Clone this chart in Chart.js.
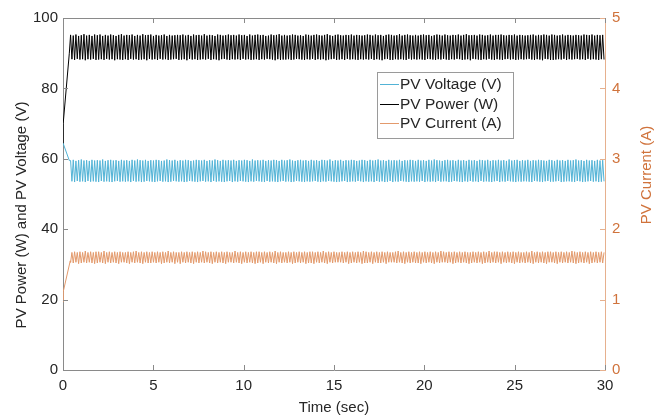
<!DOCTYPE html>
<html><head><meta charset="utf-8">
<script src="https://cdn.jsdelivr.net/npm/chart.js@4"></script>
<style>html,body{margin:0;padding:0;background:#fff}#wrap{width:656px;height:419px}</style>
</head><body><div id="wrap"><canvas id="c" width="656" height="419"></canvas></div>
<script>
const xTicks = [0, 5, 10, 15, 20, 25, 30];
const leftTicks = [0, 20, 40, 60, 80, 100];
const rightTicks = [0, 1, 2, 3, 4, 5];
const seriesNames = ['PV Voltage (V)', 'PV Power (W)', 'PV Current (A)'];
const xTitle = 'Time (sec)';
const leftTitle = 'PV Power (W) and PV Voltage (V)';
const rightTitle = 'PV Current (A)';

// start-up transient (time in s, value)
const voltageStartTimes = [0, 0.35];
const voltageStartValues = [64.5, 59.5];
const powerStartTimes = [0, 0.01, 0.35];
const powerStartValues = [64, 70, 90];
const currentStartTimes = [0, 0.02, 0.40];
const currentStartValues = [0.97, 1.12, 1.55];

// steady-state samples on the logging grid
const steadyStartSec = 0.42;
const steadyStepSec = 0.074;

const voltageSteady = [
59.5,53.6,59.7,53.4,59.4,53.7,59.6,53.5,59.8,53.6,59.5,53.4,59.6,53.7,59.4,53.5,59.7,53.6,59.5,53.5,
59.6,53.4,59.5,53.7,59.8,53.5,59.4,53.6,59.6,53.5,59.7,53.4,59.5,53.6,59.6,53.7,59.4,53.5,59.7,53.6,
59.5,53.5,59.6,53.6,59.4,53.4,59.7,53.7,59.5,53.5,59.8,53.6,59.6,53.4,59.5,53.5,59.7,53.7,59.4,53.6,
59.6,53.5,59.5,53.4,59.7,53.6,59.6,53.7,59.4,53.5,59.5,53.6,59.8,53.4,59.6,53.5,59.5,53.7,59.7,53.6,
59.4,53.5,59.6,53.6,59.5,53.4,59.7,53.5,59.6,53.7,59.4,53.6,59.5,53.5,59.7,53.4,59.6,53.6,59.5,53.7,
59.7,53.5,59.4,53.6,59.6,53.4,59.5,53.7,59.8,53.5,59.6,53.6,59.4,53.5,59.7,53.4,59.5,53.6,59.6,53.7,
59.5,53.4,59.7,53.6,59.4,53.5,59.6,53.7,59.5,53.6,59.7,53.5,59.6,53.4,59.4,53.6,59.8,53.5,59.5,53.7,
59.6,53.6,59.5,53.5,59.7,53.4,59.4,53.7,59.6,53.5,59.5,53.6,59.7,53.5,59.6,53.4,59.4,53.6,59.7,53.7,
59.5,53.5,59.6,53.6,59.8,53.4,59.5,53.5,59.4,53.7,59.6,53.6,59.7,53.5,59.5,53.4,59.6,53.6,59.4,53.5,
59.7,53.6,59.5,53.7,59.6,53.5,59.4,53.4,59.7,53.6,59.6,53.5,59.5,53.7,59.8,53.6,59.4,53.5,59.6,53.4,
59.5,53.5,59.7,53.6,59.4,53.7,59.6,53.4,59.5,53.5,59.7,53.6,59.6,53.5,59.4,53.7,59.5,53.6,59.7,53.4,
59.6,53.6,59.4,53.5,59.7,53.6,59.5,53.4,59.6,53.7,59.8,53.5,59.5,53.6,59.6,53.4,59.4,53.5,59.7,53.7,
59.5,53.4,59.6,53.6,59.5,53.5,59.7,53.7,59.4,53.6,59.6,53.5,59.5,53.4,59.7,53.6,59.6,53.5,59.4,53.6,
59.7,53.5,59.5,53.7,59.6,53.4,59.4,53.6,59.7,53.5,59.5,53.6,59.8,53.4,59.6,53.7,59.5,53.5,59.4,53.6,
59.6,53.6,59.7,53.4,59.5,53.5,59.6,53.7,59.4,53.6,59.7,53.5,59.5,53.4,59.6,53.6,59.4,53.5,59.7,53.7,
59.5,53.5,59.6,53.6,59.4,53.4,59.7,53.7,59.6,53.5,59.5,53.6,59.7,53.5,59.4,53.4,59.6,53.6,59.5,53.7,
59.7,53.4,59.5,53.6,59.6,53.5,59.4,53.7,59.8,53.6,59.5,53.5,59.6,53.4,59.7,53.6,59.4,53.5,59.6,53.6,
59.5,53.6,59.7,53.5,59.4,53.4,59.6,53.7,59.5,53.6,59.7,53.5,59.6,53.4,59.5,53.6,59.4,53.7,59.7,53.5,
59.6,53.5,59.4,53.6,59.7,53.7,59.5,53.4,59.6,53.5,59.4,53.6,59.7,53.6,59.5,53.5,59.6,53.4,59.8,53.7,
59.5,53.6,59.6,53.4,59.4,53.5,59.7,53.6,59.5,53.7,59.6,53.5,59.4,53.6,59.7,53.4,59.5,53.5,59.6,53.6
];
const powerSteady = [
95.2,88.3,95.0,88.1,95.3,88.4,94.9,88.2,95.1,88.3,95.4,88.0,95.0,88.3,95.2,88.2,94.9,88.4,95.3,88.1,
95.1,88.2,95.3,88.3,94.9,88.1,95.2,88.4,95.0,88.2,95.3,88.3,95.1,88.0,94.9,88.3,95.2,88.2,95.4,88.1,
95.0,88.3,95.2,88.1,95.1,88.4,95.3,88.2,94.9,88.3,95.2,88.1,95.0,88.2,95.4,88.3,95.1,88.0,95.2,88.4,
95.3,88.2,94.9,88.3,95.2,88.1,95.0,88.4,95.1,88.2,95.3,88.3,94.9,88.1,95.2,88.2,95.0,88.3,95.1,88.4,
95.2,88.1,95.1,88.2,95.3,88.3,95.0,88.0,95.2,88.4,94.9,88.2,95.3,88.3,95.1,88.1,95.2,88.2,95.0,88.3,
95.4,88.2,95.0,88.4,95.2,88.1,95.1,88.3,94.9,88.2,95.3,88.0,95.2,88.3,95.0,88.4,95.1,88.2,95.3,88.1,
95.1,88.3,95.2,88.2,95.0,88.3,95.3,88.1,95.1,88.4,95.2,88.2,94.9,88.3,95.3,88.1,95.0,88.2,95.2,88.3,
95.3,88.1,95.1,88.3,95.2,88.2,94.9,88.4,95.0,88.3,95.3,88.2,95.1,88.0,95.2,88.3,95.4,88.1,95.0,88.2,
95.2,88.2,95.0,88.3,95.1,88.1,95.3,88.2,95.2,88.4,95.0,88.3,95.1,88.2,94.9,88.1,95.3,88.3,95.2,88.2,
95.0,88.4,95.2,88.1,95.3,88.3,95.1,88.2,95.0,88.3,95.2,88.0,95.4,88.2,95.1,88.3,94.9,88.4,95.2,88.1,
95.3,88.2,95.1,88.3,95.0,88.1,95.2,88.4,95.1,88.2,95.3,88.3,95.0,88.2,95.2,88.1,95.1,88.3,95.0,88.2,
95.1,88.3,95.3,88.2,95.2,88.4,95.0,88.1,95.3,88.3,95.1,88.2,95.2,88.0,94.9,88.3,95.2,88.4,95.3,88.1,
95.2,88.1,95.0,88.3,95.1,88.2,95.4,88.3,95.0,88.2,95.2,88.1,95.3,88.4,95.1,88.2,95.0,88.3,95.2,88.2,
95.0,88.3,95.2,88.2,95.3,88.1,95.1,88.4,95.2,88.3,94.9,88.2,95.1,88.1,95.3,88.3,95.2,88.2,95.0,88.4,
95.3,88.2,95.1,88.1,95.0,88.3,95.2,88.2,95.1,88.4,95.3,88.3,95.0,88.1,95.2,88.2,95.4,88.3,95.1,88.0,
95.1,88.4,95.2,88.3,95.0,88.2,95.3,88.1,95.2,88.3,95.0,88.2,95.1,88.4,95.3,88.2,95.0,88.1,95.2,88.3,
95.2,88.2,95.3,88.1,95.1,88.3,95.0,88.4,95.2,88.2,95.1,88.3,95.3,88.1,95.0,88.2,95.2,88.3,95.1,88.2,
95.0,88.3,95.1,88.4,95.2,88.2,95.3,88.1,95.0,88.3,95.2,88.2,95.1,88.0,95.3,88.4,95.2,88.3,95.0,88.1,
95.3,88.1,95.2,88.2,95.0,88.3,95.1,88.2,95.3,88.4,95.0,88.1,95.2,88.3,95.1,88.2,95.0,88.3,95.2,88.4,
95.1,88.2,95.0,88.3,95.3,88.1,95.2,88.4,95.1,88.2,95.3,88.3,95.0,88.2,95.2,88.1,95.1,88.3,95.2,88.2
];
const currentSteady = [
1.53,1.67,1.52,1.68,1.53,1.67,1.51,1.68,1.52,1.67,1.53,1.69,1.52,1.67,1.53,1.68,1.52,1.67,1.51,1.68,
1.52,1.68,1.53,1.67,1.52,1.69,1.51,1.67,1.53,1.68,1.52,1.67,1.53,1.68,1.52,1.67,1.51,1.68,1.53,1.67,
1.53,1.67,1.52,1.68,1.51,1.67,1.53,1.68,1.52,1.69,1.53,1.67,1.52,1.68,1.51,1.67,1.53,1.68,1.52,1.67,
1.52,1.68,1.53,1.67,1.52,1.68,1.53,1.67,1.51,1.68,1.52,1.67,1.53,1.69,1.52,1.67,1.53,1.68,1.51,1.67,
1.53,1.67,1.51,1.68,1.53,1.67,1.52,1.68,1.53,1.67,1.52,1.68,1.51,1.67,1.53,1.68,1.52,1.67,1.53,1.69,
1.52,1.68,1.53,1.67,1.52,1.68,1.51,1.67,1.53,1.68,1.52,1.67,1.53,1.68,1.52,1.67,1.51,1.68,1.53,1.67,
1.53,1.67,1.52,1.69,1.53,1.67,1.52,1.68,1.51,1.67,1.53,1.68,1.52,1.67,1.53,1.68,1.52,1.67,1.51,1.68,
1.52,1.68,1.53,1.67,1.51,1.68,1.53,1.67,1.52,1.68,1.53,1.67,1.52,1.69,1.51,1.67,1.53,1.68,1.52,1.67,
1.53,1.67,1.52,1.68,1.53,1.67,1.51,1.68,1.52,1.67,1.53,1.68,1.52,1.67,1.53,1.68,1.51,1.67,1.52,1.68,
1.52,1.68,1.51,1.67,1.53,1.68,1.52,1.67,1.53,1.69,1.52,1.67,1.51,1.68,1.53,1.67,1.52,1.68,1.53,1.67,
1.53,1.67,1.53,1.68,1.52,1.67,1.53,1.68,1.51,1.67,1.52,1.68,1.53,1.67,1.52,1.68,1.53,1.67,1.51,1.69,
1.52,1.68,1.52,1.67,1.53,1.68,1.51,1.67,1.53,1.68,1.52,1.67,1.52,1.68,1.53,1.67,1.51,1.68,1.53,1.67,
1.53,1.67,1.53,1.68,1.52,1.69,1.53,1.67,1.52,1.68,1.51,1.67,1.53,1.68,1.52,1.67,1.53,1.68,1.52,1.67,
1.52,1.68,1.51,1.67,1.53,1.68,1.52,1.67,1.53,1.68,1.52,1.67,1.51,1.68,1.53,1.67,1.52,1.69,1.53,1.68,
1.53,1.67,1.52,1.68,1.53,1.67,1.51,1.68,1.52,1.67,1.53,1.68,1.52,1.67,1.53,1.68,1.52,1.67,1.51,1.67,
1.52,1.68,1.53,1.67,1.52,1.68,1.53,1.67,1.51,1.68,1.52,1.67,1.53,1.69,1.52,1.67,1.53,1.68,1.52,1.68,
1.53,1.67,1.51,1.68,1.53,1.67,1.52,1.68,1.53,1.67,1.52,1.68,1.51,1.67,1.53,1.68,1.52,1.67,1.53,1.67,
1.52,1.68,1.53,1.67,1.52,1.69,1.51,1.67,1.53,1.68,1.52,1.67,1.53,1.68,1.52,1.67,1.51,1.68,1.53,1.68,
1.53,1.67,1.52,1.68,1.51,1.67,1.53,1.68,1.52,1.67,1.53,1.68,1.52,1.67,1.53,1.69,1.52,1.68,1.51,1.67,
1.52,1.68,1.53,1.67,1.52,1.68,1.53,1.67,1.51,1.68,1.52,1.67,1.53,1.68,1.52,1.67,1.53,1.68,1.52,1.67
];

function buildPoints(startTimes, startValues, steady) {
  const pts = startTimes.map((t, i) => ({x: t, y: startValues[i]}));
  steady.forEach((v, k) => pts.push({x: steadyStartSec + k * steadyStepSec, y: v}));
  return pts;
}

const FONT = '"Liberation Sans", Arial, Helvetica, sans-serif';
const TEXT = '#262626';
const AXIS_GRAY = '#8a8a8a';
const ORANGE_TEXT = '#D0733C';
const ORANGE_AXIS = '#E6B08E';
const COLORS = ['#52B3D6', '#000000', '#E39A6C'];

const decor = {
  id: 'decor',
  afterDraw(chart) {
    const {ctx, chartArea: a, scales} = chart;
    ctx.save();
    ctx.lineWidth = 1;
    // top frame line + inward ticks
    ctx.strokeStyle = AXIS_GRAY;
    ctx.beginPath();
    ctx.moveTo(a.left, a.top + 0.5); ctx.lineTo(a.right, a.top + 0.5);
    scales.x.ticks.forEach(t => {
      const px = Math.round(scales.x.getPixelForValue(t.value)) + 0.5;
      ctx.moveTo(px, a.bottom); ctx.lineTo(px, a.bottom - 5);
      ctx.moveTo(px, a.top); ctx.lineTo(px, a.top + 5);
    });
    scales.y.ticks.forEach(t => {
      const py = Math.round(scales.y.getPixelForValue(t.value)) + 0.5;
      ctx.moveTo(a.left, py); ctx.lineTo(a.left + 5, py);
    });
    ctx.stroke();
    ctx.strokeStyle = ORANGE_AXIS;
    ctx.beginPath();
    scales.y1.ticks.forEach(t => {
      const py = Math.round(scales.y1.getPixelForValue(t.value)) + 0.5;
      ctx.moveTo(a.right, py); ctx.lineTo(a.right - 5, py);
    });
    ctx.stroke();

    // axis titles (vertical)
    ctx.font = '15px ' + FONT;
    ctx.textAlign = 'center';
    ctx.textBaseline = 'middle';
    ctx.fillStyle = TEXT;
    ctx.save(); ctx.translate(22, 215); ctx.rotate(-Math.PI / 2); ctx.fillText(leftTitle, 0, 0); ctx.restore();
    ctx.fillStyle = ORANGE_TEXT;
    ctx.save(); ctx.translate(647, 175); ctx.rotate(-Math.PI / 2); ctx.fillText(rightTitle, 0, 0); ctx.restore();

    // legend box inside plot
    const bx = 377, by = 72, bw = 136, bh = 66;
    ctx.fillStyle = '#ffffff';
    ctx.fillRect(bx, by, bw, bh);
    ctx.strokeStyle = '#9a9a9a';
    ctx.strokeRect(bx + 0.5, by + 0.5, bw, bh);
    ctx.font = '15.5px ' + FONT;
    ctx.textAlign = 'left';
    ctx.textBaseline = 'middle';
    chart.data.datasets.forEach((ds, i) => {
      const cy = by + 12 + i * 19.5;
      ctx.strokeStyle = ds.borderColor;
      ctx.lineWidth = 1;
      ctx.beginPath(); ctx.moveTo(bx + 3, Math.round(cy) + 0.5); ctx.lineTo(bx + 22, Math.round(cy) + 0.5); ctx.stroke();
      ctx.fillStyle = TEXT;
      ctx.fillText(ds.label, bx + 23, cy + 1);
    });
    ctx.restore();
  }
};

new Chart(document.getElementById('c'), {
  type: 'line',
  data: {
    datasets: [
      {label: seriesNames[0], data: buildPoints(voltageStartTimes, voltageStartValues, voltageSteady), borderColor: COLORS[0], yAxisID: 'y'},
      {label: seriesNames[1], data: buildPoints(powerStartTimes, powerStartValues, powerSteady), borderColor: COLORS[1], yAxisID: 'y'},
      {label: seriesNames[2], data: buildPoints(currentStartTimes, currentStartValues, currentSteady), borderColor: COLORS[2], yAxisID: 'y1'}
    ]
  },
  options: {
    responsive: false,
    animation: false,
    events: [],
    layout: {padding: {top: 18, left: 0, right: 0, bottom: 0}},
    elements: {point: {radius: 0}, line: {borderWidth: 1, tension: 0}},
    plugins: {legend: {display: false}, tooltip: {enabled: false}},
    scales: {
      x: {
        type: 'linear', min: 0, max: 30,
        afterBuildTicks: s => { s.ticks = xTicks.map(v => ({value: v})); },
        afterFit: s => { s.height = 49; },
        grid: {display: true, drawOnChartArea: false, drawTicks: false},
        border: {display: true, color: AXIS_GRAY, width: 1},
        ticks: {padding: 7, color: TEXT, font: {family: FONT, size: 15}, maxRotation: 0, autoSkip: false},
        title: {display: true, text: xTitle, color: TEXT, font: {family: FONT, size: 15}, padding: {top: 0, bottom: 2}}
      },
      y: {
        type: 'linear', position: 'left', min: 0, max: 100,
        afterBuildTicks: s => { s.ticks = leftTicks.map(v => ({value: v})); },
        afterFit: s => { s.width = 63; },
        grid: {display: true, drawOnChartArea: false, drawTicks: false},
        border: {display: true, color: AXIS_GRAY, width: 1},
        ticks: {padding: 5, color: TEXT, font: {family: FONT, size: 15}}
      },
      y1: {
        type: 'linear', position: 'right', min: 0, max: 5,
        afterBuildTicks: s => { s.ticks = rightTicks.map(v => ({value: v})); },
        afterFit: s => { s.width = 51; },
        grid: {display: true, drawOnChartArea: false, drawTicks: false},
        border: {display: true, color: ORANGE_AXIS, width: 1},
        ticks: {padding: 7, color: ORANGE_TEXT, font: {family: FONT, size: 15}}
      }
    }
  },
  plugins: [decor]
});
</script>
</body></html>
